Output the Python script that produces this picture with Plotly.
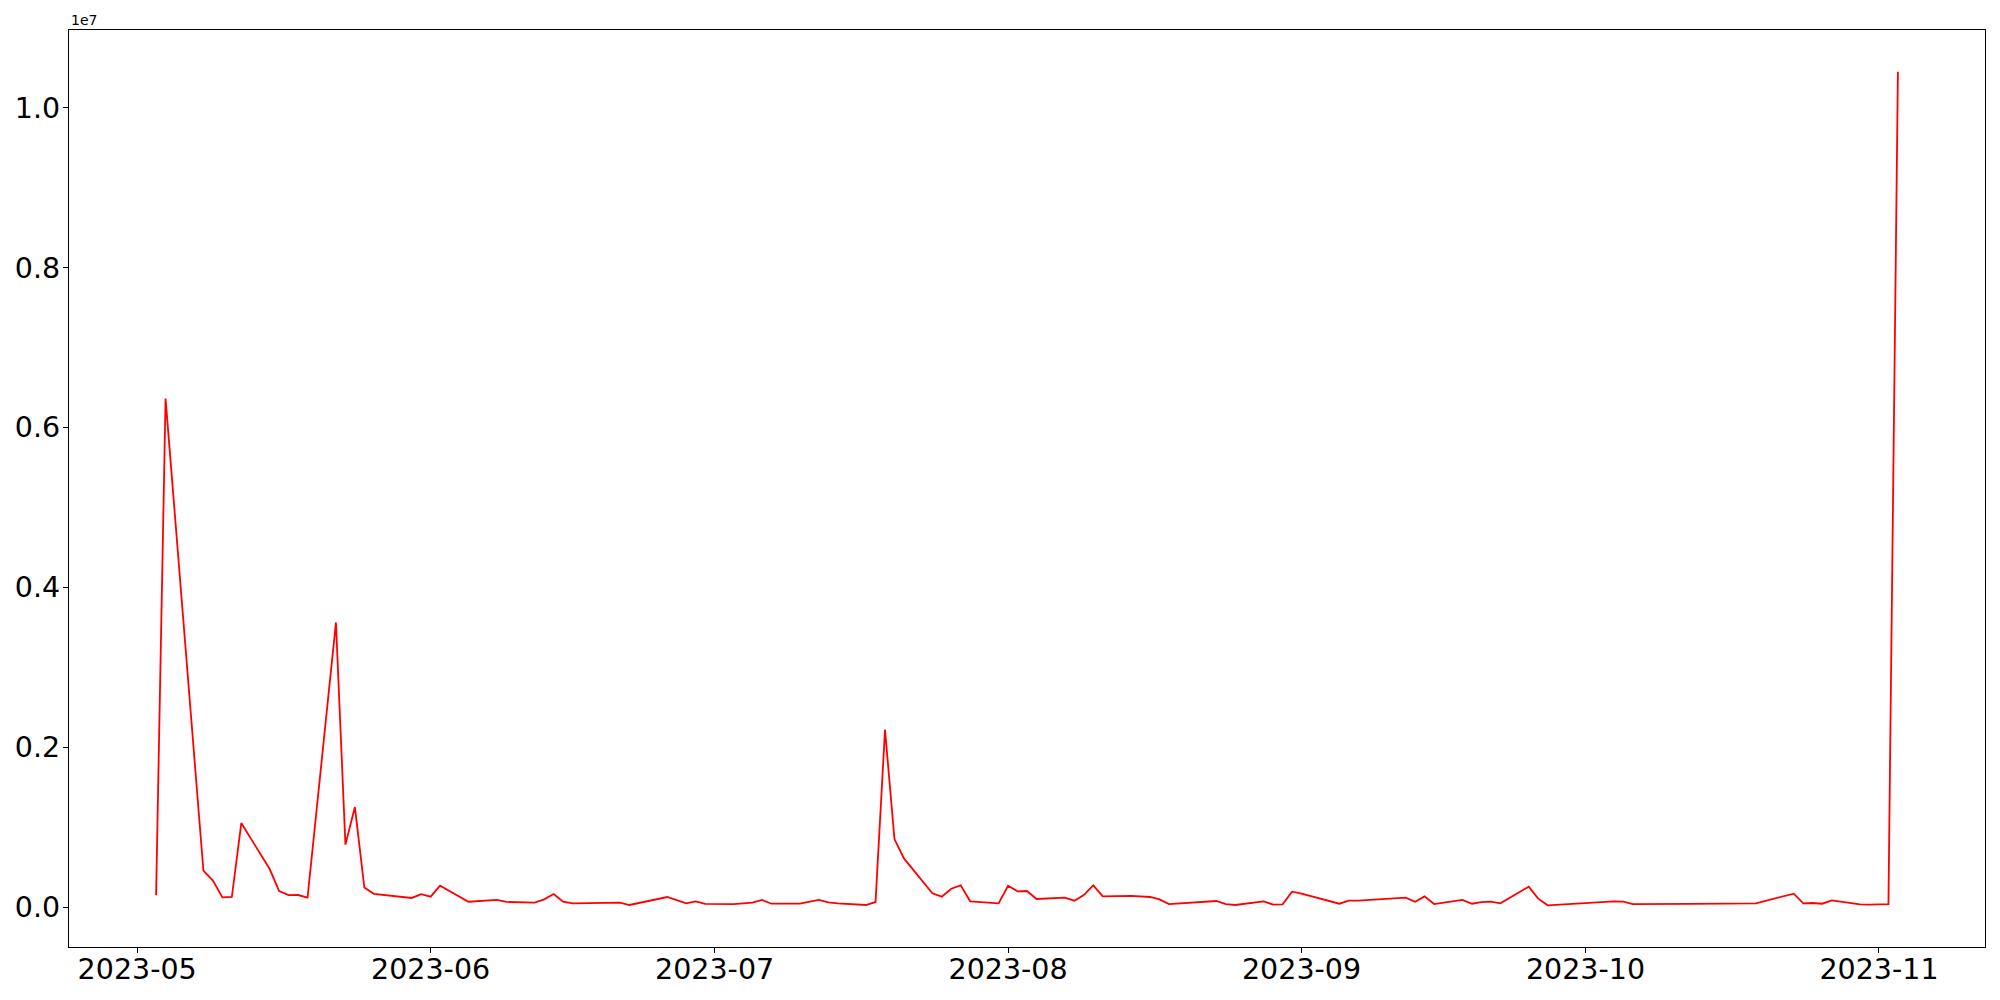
import pandas as pd
import plotly.graph_objects as go

dates = [
    "2023-05-03", "2023-05-04", "2023-05-08", "2023-05-09", "2023-05-10", "2023-05-11", "2023-05-12",
    "2023-05-15", "2023-05-16", "2023-05-17", "2023-05-18", "2023-05-19",
    "2023-05-22", "2023-05-23", "2023-05-24", "2023-05-25", "2023-05-26",
    "2023-05-30", "2023-05-31", "2023-06-01", "2023-06-02",
    "2023-06-05", "2023-06-08", "2023-06-09",
    "2023-06-12", "2023-06-13", "2023-06-14", "2023-06-15", "2023-06-16",
    "2023-06-20", "2023-06-21", "2023-06-22", "2023-06-26", "2023-06-28", "2023-06-29", "2023-06-30",
    "2023-07-03", "2023-07-05", "2023-07-06", "2023-07-07",
    "2023-07-10", "2023-07-12", "2023-07-13", "2023-07-14",
    "2023-07-17", "2023-07-18", "2023-07-19", "2023-07-20", "2023-07-21",
    "2023-07-24", "2023-07-25", "2023-07-26", "2023-07-27", "2023-07-28",
    "2023-07-31", "2023-08-01", "2023-08-02", "2023-08-03", "2023-08-04",
    "2023-08-07", "2023-08-08", "2023-08-09", "2023-08-10", "2023-08-11",
    "2023-08-14", "2023-08-16", "2023-08-17", "2023-08-18",
    "2023-08-21", "2023-08-23", "2023-08-24", "2023-08-25",
    "2023-08-28", "2023-08-29", "2023-08-30", "2023-08-31", "2023-09-01",
    "2023-09-05", "2023-09-06", "2023-09-07",
    "2023-09-12", "2023-09-13", "2023-09-14", "2023-09-15",
    "2023-09-18", "2023-09-19", "2023-09-20", "2023-09-21", "2023-09-22",
    "2023-09-25", "2023-09-26", "2023-09-27",
    "2023-10-04", "2023-10-05", "2023-10-06",
    "2023-10-11", "2023-10-12", "2023-10-19",
    "2023-10-23", "2023-10-24", "2023-10-25", "2023-10-26", "2023-10-27",
    "2023-10-30", "2023-10-31", "2023-11-02", "2023-11-03",
]

values = [
    148000, 6360000, 454000, 330000, 120000, 125000, 1050000,
    475000, 200000, 148000, 150000, 117000,
    3560000, 780000, 1250000, 244000, 165000,
    113000, 160000, 129000, 266000,
    66000, 88000, 63000,
    54000, 95000, 162000, 66000, 46000,
    47000, 54000, 25000, 125000, 46000, 71000, 38000,
    37000, 54000, 88000, 41000,
    41000, 88000, 57000, 45000,
    25000, 63000, 2218000, 850000, 608000,
    171000, 129000, 229000, 271000, 71000,
    46000, 266000, 196000, 200000, 100000,
    117000, 79000, 150000, 271000, 133000,
    138000, 125000, 96000, 37000,
    62000, 75000, 37000, 25000,
    71000, 29000, 33000, 191000, 167000,
    41000, 79000, 79000,
    117000, 66000, 133000, 37000,
    88000, 41000, 62000, 67000, 46000,
    254000, 104000, 21000,
    71000, 66000, 37000,
    33000, 38000, 46000,
    167000, 46000, 50000, 41000, 83000,
    33000, 29000, 37000, 10450000,
]

x_ticks = ["2023-05-01", "2023-06-01", "2023-07-01", "2023-08-01",
           "2023-09-01", "2023-10-01", "2023-11-01"]
y_ticks = [0, 2000000, 4000000, 6000000, 8000000, 10000000]
y_scale_label = "1e7"

xd = pd.to_datetime(dates)
span = xd.max() - xd.min()
x_range = [xd.min() - 0.05 * span, xd.max() + 0.05 * span]
vmin, vmax = min(values), max(values)
vspan = vmax - vmin
y_range = [vmin - 0.05 * vspan, vmax + 0.05 * vspan]

fig = go.Figure()
fig.add_trace(go.Scatter(x=xd, y=values, mode="lines",
                         line=dict(color="red", width=1.8), showlegend=False))

font_family = "DejaVu Sans"
fig.update_layout(
    width=2000, height=1000,
    margin=dict(l=61, r=23, t=22, b=61),
    plot_bgcolor="white", paper_bgcolor="white",
    font=dict(family=font_family, color="black"),
)
fig.update_xaxes(
    range=x_range, tickvals=pd.to_datetime(x_ticks),
    ticktext=[pd.Timestamp(t).strftime("%Y-%m") for t in x_ticks],
    showline=True, linecolor="black", linewidth=1.2, mirror=True,
    ticks="outside", ticklen=5, tickcolor="black", tickwidth=1.2,
    showgrid=False, zeroline=False, tickfont=dict(size=28.5), automargin=False,
    ticklabelstandoff=-8,
)
fig.update_yaxes(
    range=y_range, tickvals=y_ticks,
    ticktext=[f"{v / 1e7:.1f}" for v in y_ticks],
    showline=True, linecolor="black", linewidth=1.2, mirror=True,
    ticks="outside", ticklen=5, tickcolor="black", tickwidth=1.2,
    showgrid=False, zeroline=False, tickfont=dict(size=28.5), automargin=False,
    ticklabelstandoff=-3,
)
fig.add_annotation(x=0, y=1, xref="paper", yref="paper", xanchor="left",
                   yanchor="bottom", text=y_scale_label, showarrow=False,
                   font=dict(size=14, family=font_family, color="black"))

fig.write_html("out.html")
